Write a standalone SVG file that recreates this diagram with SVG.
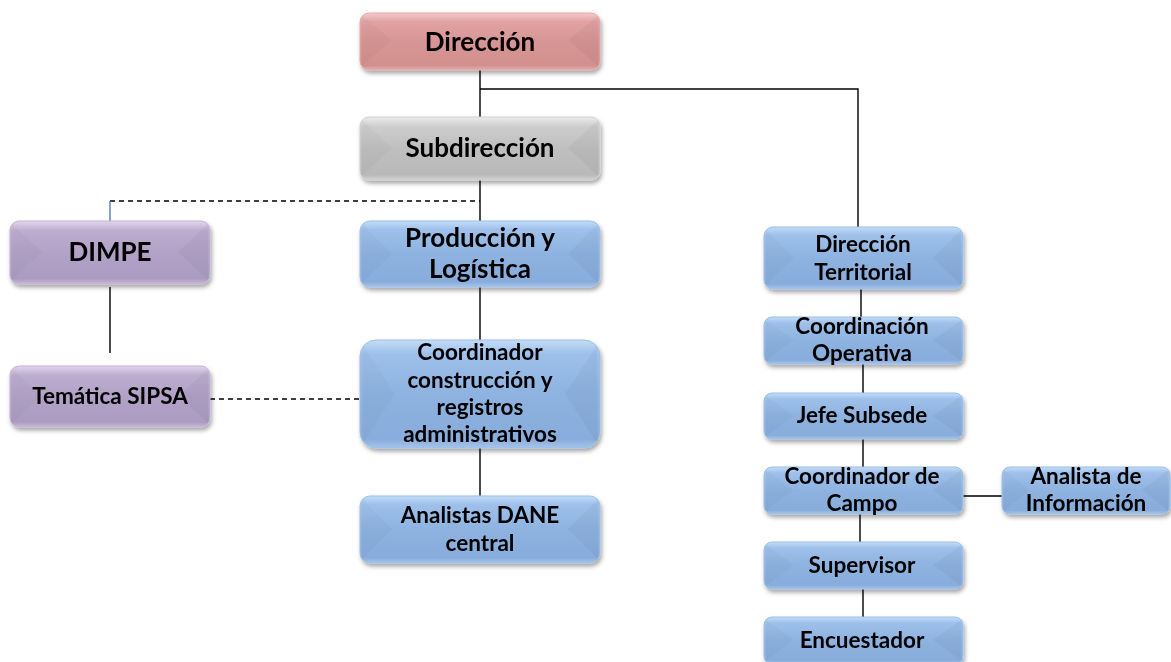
<svg xmlns="http://www.w3.org/2000/svg" width="1171" height="662" viewBox="0 0 1171 662">
<defs>
<filter id="sh" x="-10%" y="-20%" width="125%" height="150%">
<feDropShadow dx="1.5" dy="3" stdDeviation="2" flood-color="#000" flood-opacity="0.35"/>
</filter>
<linearGradient id="gBlue" x1="0" y1="0" x2="0" y2="1">
<stop offset="0" stop-color="#c4dcf8"/><stop offset="0.13" stop-color="#9ec0ea"/><stop offset="0.5" stop-color="#8eb3e0"/><stop offset="0.92" stop-color="#88acdb"/><stop offset="1" stop-color="#a7c5ec"/>
</linearGradient>
<linearGradient id="gRed" x1="0" y1="0" x2="0" y2="1">
<stop offset="0" stop-color="#f5caca"/><stop offset="0.15" stop-color="#e0a3a2"/><stop offset="0.5" stop-color="#d79695"/><stop offset="0.92" stop-color="#d28f8e"/><stop offset="1" stop-color="#e6b0af"/>
</linearGradient>
<linearGradient id="gGray" x1="0" y1="0" x2="0" y2="1">
<stop offset="0" stop-color="#ececec"/><stop offset="0.15" stop-color="#cdcdcd"/><stop offset="0.5" stop-color="#bfbfbf"/><stop offset="0.92" stop-color="#b9b9b9"/><stop offset="1" stop-color="#d4d4d4"/>
</linearGradient>
<linearGradient id="gPur" x1="0" y1="0" x2="0" y2="1">
<stop offset="0" stop-color="#e0d6ec"/><stop offset="0.15" stop-color="#bdaed0"/><stop offset="0.5" stop-color="#b2a2c7"/><stop offset="0.92" stop-color="#ab9bc1"/><stop offset="1" stop-color="#c8bbd9"/>
</linearGradient>
</defs>
<style>
.n{filter:url(#sh)}
.blue{fill:url(#gBlue);stroke:#9fbfe6;stroke-width:1}
.red{fill:url(#gRed);stroke:#e3a9a8;stroke-width:1}
.gray{fill:url(#gGray);stroke:#d0d0d0;stroke-width:1}
.pur{fill:url(#gPur);stroke:#c3b5d6;stroke-width:1}
.bl{fill:#000;opacity:0.025}
.br{fill:#000;opacity:0.035}
.t{font-family:Lato,"Open Sans","DejaVu Sans",sans-serif;font-weight:bold;fill:#000;text-anchor:middle}
.L{font-size:26px}
.S{font-size:22.5px}
.c{fill:none;stroke:#000;stroke-width:1.4}
.d{fill:none;stroke:#000;stroke-width:1.4;stroke-dasharray:5 4}
</style>

<g id="connectors">
<path class="c" d="M480 70 V117 M480 89 H858 V227 M480 180 V221 M480 287 V340 M480 448 V496"/>
<path class="d" d="M110 201 H480"/>
<path d="M110 201 V221" fill="none" stroke="#4f81bd" stroke-width="1.4"/>
<path class="c" d="M110 287 V353"/>
<path class="d" d="M210 399 H360"/>
<path class="c" d="M861 289 V317 M863 364 V393 M863 439 V467 M860 514 V542 M863 589 V617 M963 496 H1002"/>
</g>

<g id="direccion" class="n">
<rect class="red" x="360" y="13" width="240" height="57" rx="9"/>
<polygon class="bl" points="362,16 392,40 362,66"/><polygon class="br" points="598,16 568,40 598,66"/>
<text class="t L" x="480" y="51">Dirección</text>
</g>

<g id="subdireccion" class="n">
<rect class="gray" x="360" y="117" width="240" height="63" rx="9"/>
<polygon class="bl" points="362,120 392,148 362,176"/><polygon class="br" points="598,120 568,148 598,176"/>
<text class="t L" x="480" y="157">Subdirección</text>
</g>

<g id="produccion" class="n">
<rect class="blue" x="360" y="221" width="240" height="66" rx="10"/>
<polygon class="bl" points="362,224 392,254 362,283"/><polygon class="br" points="598,224 568,254 598,283"/>
<text class="t L" x="480" y="247">Producción y</text>
<text class="t L" x="480" y="278">Logística</text>
</g>

<g id="dimpe" class="n">
<rect class="pur" x="10" y="221" width="200" height="63" rx="9"/>
<polygon class="bl" points="12,224 42,252 12,280"/><polygon class="br" points="208,224 178,252 208,280"/>
<text class="t L" x="110" y="261">DIMPE</text>
</g>

<g id="tematica" class="n">
<rect class="pur" x="10" y="366" width="200" height="61" rx="9"/>
<polygon class="bl" points="12,369 42,396 12,423"/><polygon class="br" points="208,369 178,396 208,423"/>
<text class="t S" x="110" y="404">Temática SIPSA</text>
</g>

<g id="coordinador" class="n">
<rect class="blue" x="360" y="340" width="240" height="108" rx="16"/>
<polygon class="bl" points="363,345 395,394 363,443"/><polygon class="br" points="597,345 565,394 597,443"/>
<text class="t S" x="480" y="360">Coordinador</text>
<text class="t S" x="480" y="388">construcción y</text>
<text class="t S" x="480" y="415">registros</text>
<text class="t S" x="480" y="442">administrativos</text>
</g>

<g id="analistas" class="n">
<rect class="blue" x="360" y="496" width="240" height="67" rx="10"/>
<polygon class="bl" points="362,499 392,529 362,559"/><polygon class="br" points="598,499 568,529 598,559"/>
<text class="t S" x="480" y="523">Analistas DANE</text>
<text class="t S" x="480" y="551">central</text>
</g>

<g id="dir-territorial" class="n">
<rect class="blue" x="764" y="227" width="199" height="62" rx="9"/>
<polygon class="bl" points="766,230 794,258 766,285"/><polygon class="br" points="961,230 933,258 961,285"/>
<text class="t S" x="863" y="252">Dirección</text>
<text class="t S" x="863" y="280">Territorial</text>
</g>

<g id="coord-operativa" class="n">
<rect class="blue" x="764" y="317" width="199" height="47" rx="8"/>
<polygon class="bl" points="766,320 794,340 766,361"/><polygon class="br" points="961,320 933,340 961,361"/>
<text class="t S" x="862" y="334">Coordinación</text>
<text class="t S" x="862" y="361">Operativa</text>
</g>

<g id="jefe-subsede" class="n">
<rect class="blue" x="764" y="393" width="199" height="46" rx="8"/>
<polygon class="bl" points="766,396 794,416 766,436"/><polygon class="br" points="961,396 933,416 961,436"/>
<text class="t S" x="862" y="423">Jefe Subsede</text>
</g>

<g id="coord-campo" class="n">
<rect class="blue" x="764" y="467" width="199" height="47" rx="8"/>
<polygon class="bl" points="766,470 794,490 766,511"/><polygon class="br" points="961,470 933,490 961,511"/>
<text class="t S" x="862" y="484">Coordinador de</text>
<text class="t S" x="862" y="511">Campo</text>
</g>

<g id="analista-info" class="n">
<rect class="blue" x="1002" y="467" width="168" height="47" rx="8"/>
<polygon class="bl" points="1004,470 1030,490 1004,511"/><polygon class="br" points="1168,470 1142,490 1168,511"/>
<text class="t S" x="1086" y="484">Analista de</text>
<text class="t S" x="1086" y="511">Información</text>
</g>

<g id="supervisor" class="n">
<rect class="blue" x="764" y="542" width="199" height="47" rx="8"/>
<polygon class="bl" points="766,545 794,565 766,586"/><polygon class="br" points="961,545 933,565 961,586"/>
<text class="t S" x="862" y="573">Supervisor</text>
</g>

<g id="encuestador" class="n">
<rect class="blue" x="764" y="617" width="199" height="47" rx="8"/>
<polygon class="bl" points="766,620 794,640 766,661"/><polygon class="br" points="961,620 933,640 961,661"/>
<text class="t S" x="862" y="648">Encuestador</text>
</g>
</svg>
